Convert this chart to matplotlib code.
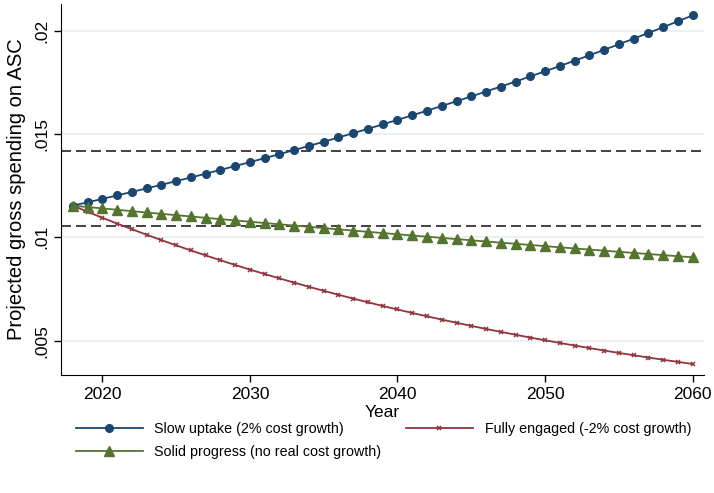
import matplotlib.pyplot as plt

# Years and projected spending (share)
years = list(range(2018, 2061))

slow_uptake = [0.011530, 0.011692, 0.011857, 0.012024, 0.012193, 0.012365, 0.012539,
               0.012715, 0.012894, 0.013076, 0.013260, 0.013447, 0.013636, 0.013828,
               0.014023, 0.014220, 0.014420, 0.014623, 0.014829, 0.015038, 0.015249,
               0.015464, 0.015682, 0.015902, 0.016126, 0.016353, 0.016583, 0.016817,
               0.017054, 0.017294, 0.017537, 0.017784, 0.018034, 0.018288, 0.018546,
               0.018807, 0.019071, 0.019340, 0.019612, 0.019888, 0.020168, 0.020452,
               0.020740]

fully_engaged = [0.011530, 0.011234, 0.010945, 0.010664, 0.010390, 0.010123, 0.009863,
                 0.009610, 0.009363, 0.009123, 0.008888, 0.008660, 0.008438, 0.008221,
                 0.008010, 0.007804, 0.007604, 0.007408, 0.007218, 0.007033, 0.006852,
                 0.006676, 0.006505, 0.006338, 0.006175, 0.006016, 0.005862, 0.005711,
                 0.005565, 0.005422, 0.005282, 0.005147, 0.005015, 0.004886, 0.004760,
                 0.004638, 0.004519, 0.004403, 0.004290, 0.004180, 0.004072, 0.003968,
                 0.003866]

solid_progress = [0.011530, 0.011463, 0.011397, 0.011330, 0.011265, 0.011199, 0.011134,
                  0.011070, 0.011006, 0.010942, 0.010878, 0.010815, 0.010752, 0.010690,
                  0.010628, 0.010566, 0.010505, 0.010444, 0.010383, 0.010323, 0.010263,
                  0.010204, 0.010144, 0.010086, 0.010027, 0.009969, 0.009911, 0.009854,
                  0.009796, 0.009740, 0.009683, 0.009627, 0.009571, 0.009515, 0.009460,
                  0.009405, 0.009351, 0.009296, 0.009243, 0.009189, 0.009136, 0.009083,
                  0.009030]

ref_lines = [0.01419, 0.01055]

x_ticks = [2020, 2030, 2040, 2050, 2060]
y_ticks = [0.005, 0.01, 0.015, 0.02]
y_tick_labels = ['.005', '.01', '.015', '.02']

plt.rcParams['font.family'] = ['Liberation Sans', 'DejaVu Sans']

fig = plt.figure(figsize=(7.14, 4.93), dpi=100)
ax = fig.add_axes([0.0854, 0.2394, 0.9006, 0.7525])

for y in y_ticks:
    ax.axhline(y, color='#e6eef2', lw=1.2, zorder=0)
for y in ref_lines:
    ax.axhline(y, color='#222222', lw=1.2, ls=(0, (6, 3)), zorder=1)

ax.plot(years, slow_uptake, color='#1a476f', marker='o', ms=5.5, lw=1.3,
        label='Slow uptake (2% cost growth)', zorder=3)
ax.plot(years, fully_engaged, color='#90353b', marker='x', ms=3.5, mew=1.1, lw=1.3,
        label='Fully engaged (-2% cost growth)', zorder=3)
ax.plot(years, solid_progress, color='#55752f', marker='^', ms=6.5, lw=1.3,
        label='Solid progress (no real cost growth)', zorder=3)

ax.set_xlim(2017.2, 2060.77)
ax.set_ylim(0.003335, 0.02129)
ax.set_xticks(x_ticks)
ax.set_yticks(y_ticks)
ax.set_yticklabels(y_tick_labels, rotation=90, va='center')
ax.tick_params(labelsize=12.5, length=5, width=1, direction='out')
ax.spines['top'].set_visible(False)
ax.spines['right'].set_visible(False)
ax.set_xlabel('Year', fontsize=12.5, labelpad=2)
ax.set_ylabel('Projected gross spending on ASC', fontsize=14.5, labelpad=6)

h, l = ax.get_legend_handles_labels()
order = [0, 2, 1]
fig.legend([h[i] for i in order], [l[i] for i in order], ncol=2, frameon=False,
           loc='upper left', bbox_to_anchor=(0.088, 0.170), fontsize=10.3,
           handlelength=4.7, columnspacing=1.7, handletextpad=0.8, labelspacing=0.6)

fig.savefig('out.png', dpi=100)
